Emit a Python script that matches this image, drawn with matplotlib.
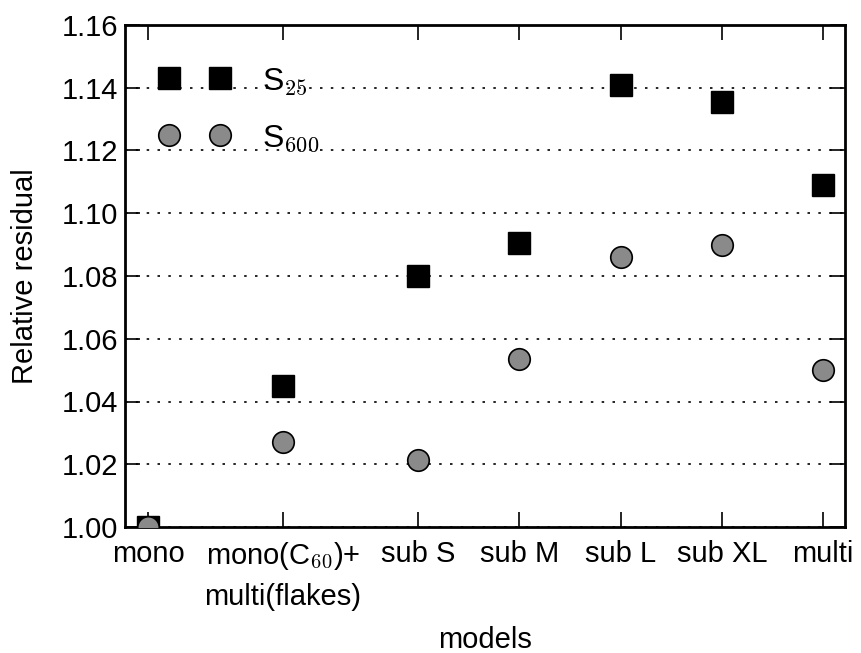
import numpy as np
import matplotlib
matplotlib.use('Agg')
from matplotlib import pyplot as plt

plt.rcParams['font.family'] = ['Liberation Sans', 'DejaVu Sans']
plt.rcParams['mathtext.fontset'] = 'cm'

# daten
models = ['mono', 'mono(C$_{60}$)+\nmulti(flakes)', 'sub S', 'sub M', 'sub L', 'sub XL', 'multi']
x_pos = [0, 4, 8, 11, 14, 17, 20]
s25 = [1.000, 1.045, 1.080, 1.0905, 1.141, 1.1355, 1.109]
s600 = [1.000, 1.027, 1.0215, 1.0535, 1.086, 1.090, 1.050]
y_ticks = [1.00, 1.02, 1.04, 1.06, 1.08, 1.10, 1.12, 1.14, 1.16]

fig = plt.figure(figsize=(8.61, 6.53), dpi=100)
ax = fig.add_axes([125 / 861, 1 - 527 / 653, 720 / 861, 502 / 653])

ax.plot(x_pos, s25, 's', color='black', markersize=15.5, label='S$_{25}$', zorder=3)
ax.plot(x_pos, s600, 'o', color='#8a8a8a', markeredgecolor='black', markeredgewidth=1.2,
        markersize=15.5, label='S$_{600}$', zorder=3)

ax.set_xlim(-0.68, 20.65)
ax.set_ylim(1.00, 1.16)
ax.set_yticks(y_ticks)
ax.set_yticklabels(['%.2f' % v for v in y_ticks])
ax.set_xticks(x_pos)
ax.set_xticklabels(models, linespacing=1.5)
ax.yaxis.grid(True, linestyle=(0, (1.5, 5)), color='black', linewidth=1.2)
ax.set_axisbelow(True)

ax.tick_params(direction='in', length=11, width=1.2, top=True, right=True,
               labelsize=21)
ax.tick_params(axis='y', pad=5)
ax.tick_params(axis='x', pad=9.5)
for sp in ax.spines.values():
    sp.set_linewidth(2)

ax.set_xlabel('models', fontsize=21, labelpad=11)
ax.set_ylabel('Relative residual', fontsize=21, labelpad=16)

ax.legend(loc='upper left', numpoints=2, frameon=False, fontsize=23,
          handlelength=2.2, handletextpad=1.0, labelspacing=0.83, borderaxespad=0,
          bbox_to_anchor=(0.03, 0.944))

fig.savefig('out.png', dpi=100)
